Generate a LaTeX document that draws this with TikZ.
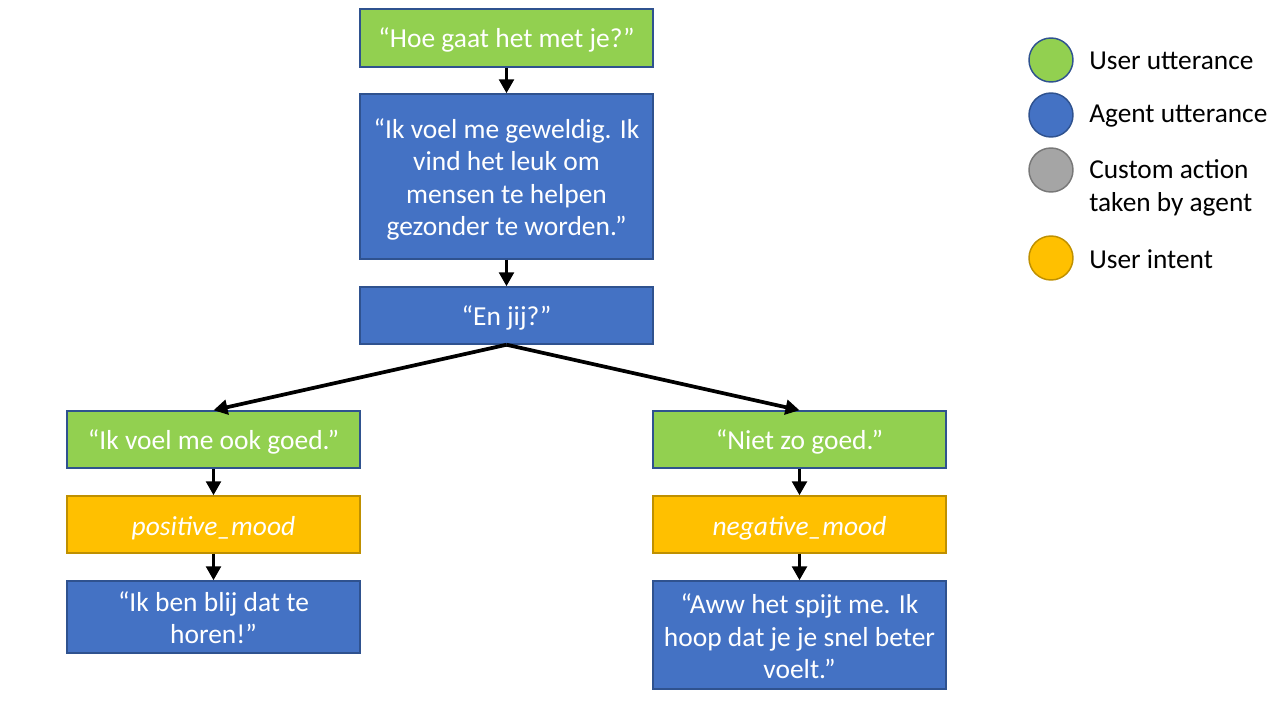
\documentclass[tikz,border=0pt]{standalone}
\usepackage{fontspec}
\setmainfont{Carlito}
\usetikzlibrary{arrows.meta}
\definecolor{ugreen}{HTML}{92D050}
\definecolor{ablue}{HTML}{4472C4}
\definecolor{cgray}{HTML}{A5A5A5}
\definecolor{iyellow}{HTML}{FFC000}
\definecolor{bordblue}{HTML}{2F528F}
\definecolor{bordgold}{HTML}{BF9000}
\definecolor{bordgray}{HTML}{787878}
\newcommand\lowtxt[2]{\raisebox{-#1}[\height][\depth]{#2}}
\tikzset{
  box/.style={draw=bordblue, line width=1.1pt, minimum width=219.75pt, inner sep=0pt,
    text=white, align=center, font=\fontsize{20.6}{24.4}\selectfont},
  userbox/.style={box, fill=ugreen},
  agentbox/.style={box, fill=ablue},
  intentbox/.style={box, fill=iyellow, draw=bordgold},
  arr/.style={line width=2.8pt, -{Triangle[length=10.5pt,width=11pt]}},
  legcirc/.style={circle, minimum size=33pt, inner sep=0pt, line width=1.1pt},
  legtext/.style={anchor=west, align=left, inner sep=0pt, font=\fontsize{20.5}{24.4}\selectfont}
}
\begin{document}
\begin{tikzpicture}[x=0.75pt,y=-0.75pt]
\useasboundingbox (0,0) rectangle (1283,703);
\node[userbox, minimum height=43.5pt] (b1) at (506.5,38) {\lowtxt{1.5pt}{“Hoe gaat het met je?”}};
\node[agentbox, minimum height=123.75pt] (b2) at (506.5,176.5) {\rule{0pt}{19pt}“Ik voel me geweldig. Ik\\vind het leuk om\\mensen te helpen\\gezonder te worden.”};
\node[agentbox, minimum height=42.75pt] (b3) at (506.5,315.5) {\lowtxt{1.5pt}{“En jij?”}};
\node[userbox, minimum height=42.75pt] (l1) at (213.5,439.5) {\lowtxt{1.5pt}{“Ik voel me ook goed.”}};
\node[intentbox, minimum height=42.75pt] (l2) at (213.5,524.5) {\lowtxt{3pt}{\textit{positive\_mood}}};
\node[agentbox, minimum height=54pt] (l3) at (213.5,617) {\rule{0pt}{16pt}“Ik ben blij dat te\\horen!”};
\node[userbox, minimum height=42.75pt] (r1) at (799.5,439.5) {\lowtxt{1.5pt}{“Niet zo goed.”}};
\node[intentbox, minimum height=42.75pt] (r2) at (799.5,524.5) {\lowtxt{3pt}{\textit{negative\_mood}}};
\node[agentbox, minimum height=81pt] (r3) at (799.5,635) {\rule{0pt}{17pt}“Aww het spijt me. Ik\\hoop dat je je snel beter\\voelt.”};
\draw[arr] (b1.south) -- (b2.north);
\draw[arr] (b2.south) -- (b3.north);
\draw[arr] (b3.south) -- (l1.north);
\draw[arr] (b3.south) -- (r1.north);
\draw[arr] (l1.south) -- (l2.north);
\draw[arr] (l2.south) -- (l3.north);
\draw[arr] (r1.south) -- (r2.north);
\draw[arr] (r2.south) -- (r3.north);
% legend
\node[legcirc, fill=ugreen, draw=bordblue] (c1) at (1051,60) {};
\node[legcirc, fill=ablue, draw=bordblue] (c2) at (1051,115) {};
\node[legcirc, fill=cgray, draw=bordgray] (c3) at (1051,170) {};
\node[legcirc, fill=iyellow, draw=bordgold] (c4) at (1051,258) {};
\node[legtext] (t1) at (1089,61) {User utterance};
\node[legtext] (t2) at (1089,116) {Agent utterance};
\node[legtext] (t3) at (1089,188) {Custom action\\taken by agent};
\node[legtext] (t4) at (1089,259) {User intent};
\end{tikzpicture}
\end{document}
